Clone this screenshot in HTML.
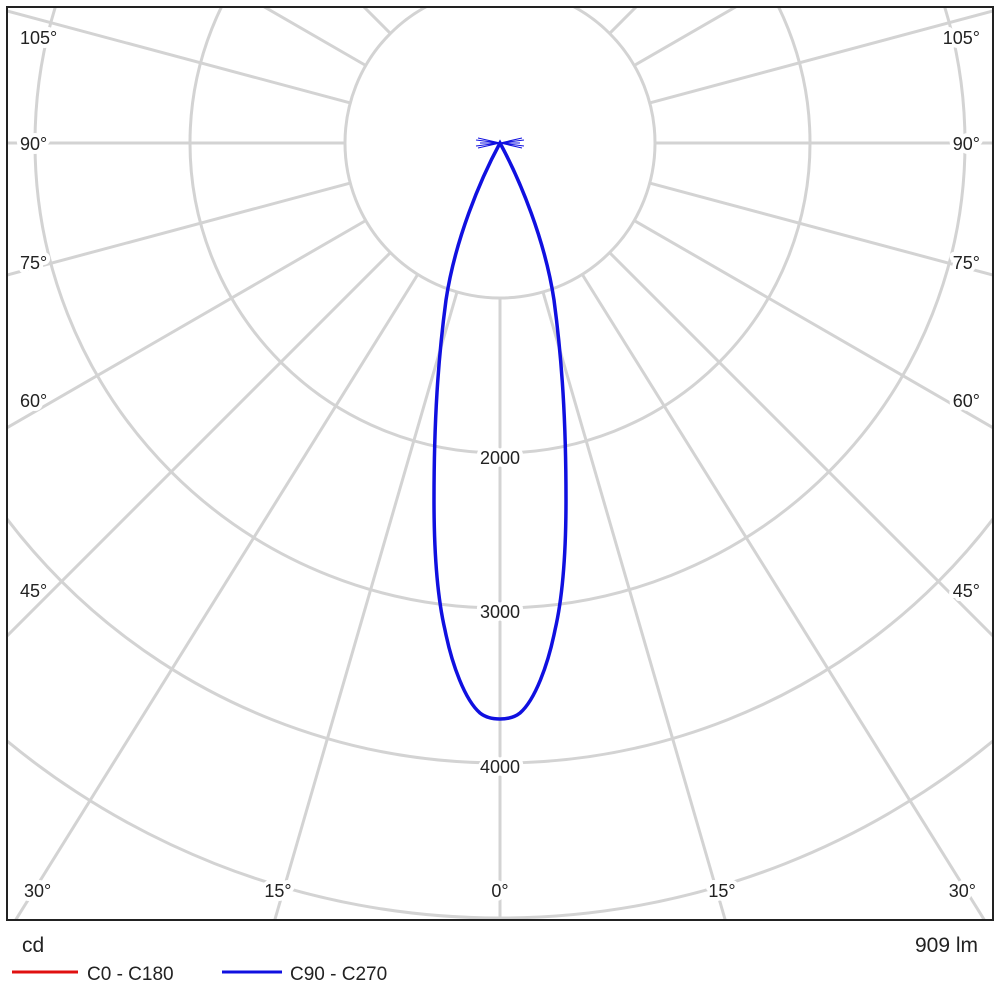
<!DOCTYPE html>
<html><head><meta charset="utf-8"><style>
html,body{margin:0;padding:0;background:#fff;width:1000px;height:1000px;overflow:hidden;}
svg{display:block;font-family:"Liberation Sans",Arial,sans-serif;}
.l text{paint-order:stroke;stroke:#fff;stroke-width:8px;stroke-linejoin:round;}
</style></head><body>
<svg width="1000" height="1000" viewBox="0 0 1000 1000" xmlns="http://www.w3.org/2000/svg">
<defs><clipPath id="c"><rect x="7" y="7" width="986" height="913"/></clipPath></defs>
<rect width="1000" height="1000" fill="#fff"/>
<g clip-path="url(#c)" stroke="#d3d3d3" stroke-width="3" fill="none">
 <g transform="translate(500,143)">
  <circle r="155"/><circle r="310"/><circle r="465"/><circle r="620"/><circle r="775"/><circle r="930"/>
  <g id="sp">
   <line x1="43" y1="149" x2="406" y2="1400"/>
   <line x1="82" y1="131" x2="860" y2="1380"/>
   <line x1="109.6" y1="109.6" x2="1000" y2="1000"/>
   <line x1="134.2" y1="77.5" x2="1212" y2="700"/>
   <line x1="149.7" y1="40.1" x2="1352" y2="362"/>
   <line x1="155" y1="0" x2="1400" y2="0"/>
   <line x1="149.7" y1="-40.1" x2="1352" y2="-362"/>
   <line x1="134.2" y1="-77.5" x2="1212" y2="-700"/>
   <line x1="109.6" y1="-109.6" x2="990" y2="-990"/>
   <line x1="77.5" y1="-134.2" x2="700" y2="-1212"/>
   <line x1="40.1" y1="-149.7" x2="362" y2="-1352"/>
  </g>
  <use href="#sp" transform="scale(-1,1)"/>
  <line x1="0" y1="155" x2="0" y2="1400"/>
  <line x1="0" y1="-155" x2="0" y2="-1400"/>
 </g>
</g>
<g class="l" font-size="18" fill="#222">
 <text x="20" y="44">105°</text><text x="20" y="150">90°</text><text x="20" y="269">75°</text>
 <text x="20" y="407">60°</text><text x="20" y="597">45°</text><text x="24" y="897">30°</text>
 <text x="980" y="44" text-anchor="end">105°</text><text x="980" y="150" text-anchor="end">90°</text>
 <text x="980" y="269" text-anchor="end">75°</text><text x="980" y="407" text-anchor="end">60°</text>
 <text x="980" y="597" text-anchor="end">45°</text><text x="976" y="897" text-anchor="end">30°</text>
 <text x="278" y="897" text-anchor="middle">15°</text><text x="500" y="897" text-anchor="middle">0°</text>
 <text x="722" y="897" text-anchor="middle">15°</text>
 <text x="500" y="464" text-anchor="middle">2000</text>
 <text x="500" y="618" text-anchor="middle">3000</text>
 <text x="500" y="773" text-anchor="middle">4000</text>
</g>
<rect x="7" y="7" width="986" height="913" fill="none" stroke="#222" stroke-width="2"/>
<g stroke="#1010e0" fill="none">
 <path stroke-width="1" d="M476 140 L524 146 M476 146 L524 140 M478 138 L522 148 M478 148 L522 138 M480 143 L520 143"/>
 <path stroke-width="3.5" d="M500 143 C480 180 455 240 446 300 C438 360 434 420 434 500 C434 560 438 600 445 630 C452 665 465 700 480 713 C490 721 510 721 520 713 C535 700 548 665 555 630 C562 600 566 560 566 500 C566 420 562 360 554 300 C545 240 520 180 500 143 Z"/>
</g>
<g font-size="21" fill="#222">
 <text x="22" y="952">cd</text>
 <text x="978" y="952" text-anchor="end">909 lm</text>
 <text x="87" y="980" font-size="19">C0 - C180</text>
 <text x="290" y="980" font-size="19">C90 - C270</text>
</g>
<line x1="12" y1="972" x2="78" y2="972" stroke="#e01010" stroke-width="3"/>
<line x1="222" y1="972" x2="282" y2="972" stroke="#1010e0" stroke-width="3"/>
</svg>
</body></html>
